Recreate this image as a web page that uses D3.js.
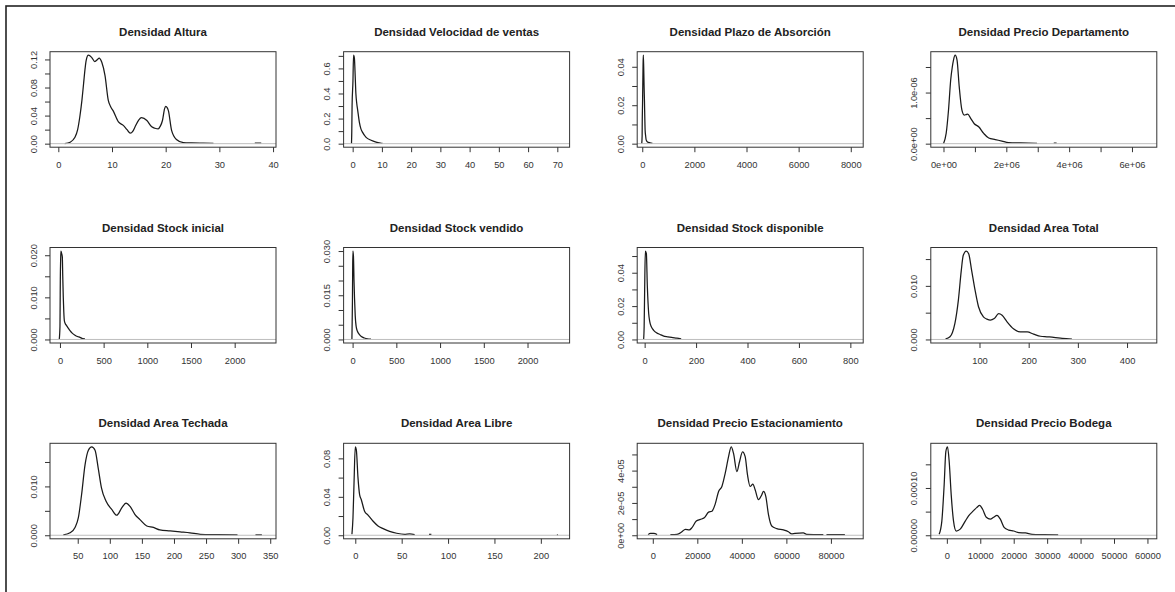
<!DOCTYPE html>
<html>
<head>
<meta charset="utf-8">
<script src="https://cdn.jsdelivr.net/npm/d3@7"></script>
<style>
  body { margin: 0; background: #fff; }
  text { font-family: "Liberation Sans", Arial, sans-serif; }
</style>
</head>
<body>
<div id="chart"></div>
<script>
// panel titles, in row order
const titles = [
  "Densidad Altura", "Densidad Velocidad de ventas", "Densidad Plazo de Absorción", "Densidad Precio Departamento",
  "Densidad Stock inicial", "Densidad Stock vendido", "Densidad Stock disponible", "Densidad Area Total",
  "Densidad Area Techada", "Densidad Area Libre", "Densidad Precio Estacionamiento", "Densidad Precio Bodega"
];

// visible x range of each panel
const xLimits = [
  [-1.55, 40.55], [-3.1, 74.2], [-194, 8477], [-0.404e6, 6.79e6],
  [-114, 2473], [-103, 2481], [-29, 850], [1, 460.5],
  [6.8, 359], [-12.6, 231], [-7000, 94500], [-4800, 62800]
];

const xTicks = [
  [0, 10, 20, 30, 40], [0, 10, 20, 30, 40, 50, 60, 70], [0, 2000, 4000, 6000, 8000], [0, 1e6, 2e6, 3e6, 4e6, 5e6, 6e6],
  [0, 500, 1000, 1500, 2000], [0, 500, 1000, 1500, 2000], [0, 200, 400, 600, 800], [100, 200, 300, 400],
  [50, 100, 150, 200, 250, 300, 350], [0, 50, 100, 150, 200], [0, 20000, 40000, 60000, 80000], [0, 10000, 20000, 30000, 40000, 50000, 60000]
];
const xTickLabels = [
  ["0", "10", "20", "30", "40"], ["0", "10", "20", "30", "40", "50", "60", "70"], ["0", "2000", "4000", "6000", "8000"],
  ["0e+00", "", "2e+06", "", "4e+06", "", "6e+06"],
  ["0", "500", "1000", "1500", "2000"], ["0", "500", "1000", "1500", "2000"], ["0", "200", "400", "600", "800"], ["100", "200", "300", "400"],
  ["50", "100", "150", "200", "250", "300", "350"], ["0", "50", "100", "150", "200"], ["0", "20000", "40000", "60000", "80000"],
  ["0", "10000", "20000", "30000", "40000", "50000", "60000"]
];

const yTicks = [
  [0, 0.02, 0.04, 0.06, 0.08, 0.10, 0.12], [0, 0.1, 0.2, 0.3, 0.4, 0.5, 0.6, 0.7], [0, 0.01, 0.02, 0.03, 0.04], [0, 5e-7, 1e-6, 1.5e-6],
  [0, 0.005, 0.010, 0.015, 0.020], [0, 0.005, 0.010, 0.015, 0.020, 0.025, 0.030], [0, 0.01, 0.02, 0.03, 0.04, 0.05], [0, 0.005, 0.010, 0.015],
  [0, 0.005, 0.010, 0.015], [0, 0.02, 0.04, 0.06, 0.08], [0, 1e-5, 2e-5, 3e-5, 4e-5, 5e-5], [0, 5e-5, 1e-4, 1.5e-4]
];
const yTickLabels = [
  ["0.00", "", "0.04", "", "0.08", "", "0.12"], ["0.0", "", "0.2", "", "0.4", "", "0.6", ""], ["0.00", "", "0.02", "", "0.04"], ["0.0e+00", "", "1.0e-06", ""],
  ["0.000", "", "0.010", "", "0.020"], ["0.000", "", "", "0.015", "", "", "0.030"], ["0.00", "", "0.02", "", "0.04", ""], ["0.000", "", "0.010", ""],
  ["0.000", "", "0.010", ""], ["0.00", "", "0.04", "", "0.08"], ["0e+00", "", "2e-05", "", "4e-05", ""], ["0.00000", "", "0.00010", ""]
];

// density curves, [x, y]; null y = hidden under the zero line
const altura = [[1.2,0],[2.2,0.002],[3.1,0.009],[3.6,0.02],[4.0,0.038],[4.4,0.062],[4.7,0.085],[5.0,0.108],[5.2,0.119],[5.6,0.126],[6.2,0.123],[6.8,0.117],[7.3,0.12],[7.6,0.122],[8.1,0.116],[8.7,0.097],[9.3,0.062],[9.8,0.052],[10.2,0.047],[11.2,0.031],[12.1,0.026],[12.8,0.02],[13.4,0.015],[13.9,0.018],[14.3,0.024],[15.0,0.034],[15.5,0.037],[16.5,0.033],[17.4,0.024],[18.0,0.022],[18.6,0.021],[19.0,0.025],[19.4,0.033],[19.8,0.05],[20.0,0.053],[20.3,0.051],[20.5,0.047],[21.1,0.019],[22.0,0.006],[23.3,0.0015],[24.8,0.001],[27.0,0.0007],[28.9,0.0005],[29.2,null],[36.5,null],[36.6,0.0006],[37.8,0.0006]];
const velocidad = [[-0.4,0],[-0.3,0.1],[-0.2,0.3],[0.1,0.5],[0.3,0.705],[0.6,0.68],[0.8,0.58],[1.1,0.4],[1.4,0.32],[1.7,0.27],[2.3,0.17],[2.8,0.12],[3.4,0.09],[4.6,0.05],[6.3,0.027],[8.0,0.013],[9.5,0.005],[10.2,0.002]];
const plazo = [[-20,0],[-5,0.004],[0,0.012],[10,0.02],[20,0.03],[30,0.04],[40,0.046],[55,0.04],[70,0.03],[85,0.022],[100,0.012],[110,0.007],[130,0.004],[150,0.002],[200,0.0009],[300,0.0004],[390,0.0001]];
const precioDepto = [[0,0],[0.085e6,0.2e-6],[0.16e6,0.66e-6],[0.23e6,1.25e-6],[0.28e6,1.5e-6],[0.32e6,1.64e-6],[0.37e6,1.73e-6],[0.43e6,1.64e-6],[0.5e6,1.12e-6],[0.585e6,0.66e-6],[0.66e6,0.56e-6],[0.72e6,0.57e-6],[0.77e6,0.58e-6],[0.87e6,0.49e-6],[0.98e6,0.39e-6],[1.12e6,0.33e-6],[1.28e6,0.2e-6],[1.44e6,0.11e-6],[1.65e6,0.08e-6],[1.86e6,0.05e-6],[2.07e6,0.02e-6],[2.45e6,0.013e-6],[2.98e6,0.007e-6],[3.0e6,null],[3.5e6,null],[3.51e6,0.012e-6],[3.6e6,0.012e-6]];
const stockInicial = [[-8,0],[0,0.003],[2,0.008],[4,0.014],[8,0.019],[11,0.021],[18,0.0205],[27,0.0196],[32,0.015],[38,0.01],[44,0.0065],[50,0.0045],[60,0.0038],[76,0.0033],[95,0.0027],[115,0.0021],[140,0.0015],[172,0.001],[200,0.0007],[229,0.0005],[260,0.0002],[286,0.00015]];
const stockVendido = [[-8,0],[-5,0.006],[-2,0.013],[1,0.025],[4,0.030],[10,0.028],[16,0.02],[22,0.014],[30,0.008],[40,0.0045],[55,0.0028],[76,0.0017],[100,0.001],[134,0.0005],[170,0.0002],[210,0.0001]];
const stockDisponible = [[-4,0],[-2,0.0076],[0,0.0296],[2.6,0.053],[6.6,0.0516],[10.5,0.0316],[15.7,0.0156],[20,0.0105],[26,0.0076],[35,0.0055],[46,0.004],[60,0.003],[72,0.0022],[90,0.0016],[105,0.0012],[125,0.0008],[142,0.0004]];
const areaTotal = [[31,0.0001],[40,0.0005],[45,0.0013],[50,0.003],[57,0.0073],[63,0.0129],[67,0.0157],[73,0.0165],[78,0.016],[84,0.0129],[91,0.0092],[98,0.0061],[108,0.0042],[115,0.0038],[122,0.0036],[130,0.0039],[139,0.0048],[146,0.0045],[156,0.0033],[169,0.002],[183,0.0014],[197,0.0014],[210,0.001],[224,0.0006],[237,0.0005],[251,0.0004],[268,0.0002],[288,0.00006]];
const areaTechada = [[27.6,0.00007],[38,0.0005],[45.8,0.0016],[51,0.0036],[56,0.0083],[61.4,0.0144],[66.6,0.0174],[71.8,0.0181],[77,0.0174],[82,0.0137],[87,0.0097],[94,0.007],[103,0.0053],[110.8,0.0041],[118.6,0.0056],[125.3,0.0066],[131.6,0.0059],[139,0.0043],[147,0.0032],[157.6,0.0019],[168,0.0016],[178,0.0011],[194,0.0009],[209.6,0.0007],[225,0.0005],[241,0.0002],[267,0.00013],[299,0.00007],[300,null],[326,null],[327,0.0001],[337,0.0001]];
const areaLibre = [[-3.6,0.001],[-2.5,0.018],[-1.4,0.053],[0,0.092],[1.1,0.089],[2.9,0.06],[4.7,0.042],[6.5,0.037],[10,0.025],[13.7,0.021],[19,0.0148],[24.5,0.0097],[30,0.0069],[37,0.0041],[44.6,0.0021],[53,0.001],[58.6,0.0014],[64,0.0007],[65,null],[79,null],[79.5,0.0008],[82,0.0008],[83,null],[217,null],[217.3,0.0005],[218.3,0.0005]];
const precioEstac = [[-2090,0.04e-5],[-1045,0.12e-5],[450,0.12e-5],[1940,0.04e-5],[2500,null],[7500,null],[7900,0.04e-5],[10900,0.06e-5],[13100,0.22e-5],[14600,0.37e-5],[16400,0.33e-5],[17600,0.47e-5],[19550,0.88e-5],[21340,0.98e-5],[23130,1.08e-5],[25070,1.43e-5],[26570,1.49e-5],[28060,1.94e-5],[29550,2.71e-5],[31040,3.02e-5],[32540,3.84e-5],[34030,4.86e-5],[35220,5.47e-5],[36270,5.06e-5],[37760,3.94e-5],[38960,4.55e-5],[40300,5.16e-5],[41490,4.86e-5],[42540,3.73e-5],[43730,3.02e-5],[44930,3.16e-5],[45970,2.82e-5],[47460,2.2e-5],[48960,2.51e-5],[49700,2.71e-5],[50750,2.41e-5],[51940,1.29e-5],[53430,0.57e-5],[55670,0.41e-5],[58660,0.33e-5],[60900,0.22e-5],[62390,0.08e-5],[63880,0.12e-5],[67610,0.14e-5],[69100,0.06e-5],[76600,0.04e-5],[77000,null],[77800,null],[78000,0.04e-5],[86270,0.04e-5]];
const precioBodega = [[-2300,0.02e-4],[-1500,0.3e-4],[-800,1.07e-4],[-300,1.77e-4],[200,1.87e-4],[700,1.56e-4],[1300,0.86e-4],[2000,0.3e-4],[2800,0.09e-4],[4000,0.13e-4],[5500,0.3e-4],[6500,0.41e-4],[8000,0.52e-4],[9000,0.59e-4],[9800,0.63e-4],[10700,0.55e-4],[11800,0.38e-4],[13000,0.34e-4],[14000,0.38e-4],[15000,0.42e-4],[16000,0.34e-4],[17200,0.16e-4],[18500,0.11e-4],[20000,0.09e-4],[21500,0.056e-4],[23500,0.05e-4],[25500,0.02e-4],[29000,0.014e-4],[33300,0.01e-4]];

const curves = [altura, velocidad, plazo, precioDepto, stockInicial, stockVendido, stockDisponible, areaTotal, areaTechada, areaLibre, precioEstac, precioBodega];

// layout
const W = 1175, H = 592;
const boxLeft0 = 50, colStep = 293.6, boxW = 226;
const boxTop0 = 51.7, rowStep = 195.8, boxH = 95.5;

const svg = d3.select("#chart").append("svg")
  .attr("width", W)
  .attr("height", H);

// outer frame
svg.append("rect")
  .attr("x", 6).attr("y", 6)
  .attr("width", 1200).attr("height", 700)
  .attr("fill", "none")
  .attr("stroke", "#222")
  .attr("stroke-width", 1.6);

curves.forEach((data, i) => {
  const col = i % 4, row = Math.floor(i / 4);
  const g = svg.append("g")
    .attr("transform", `translate(${boxLeft0 + col * colStep},${boxTop0 + row * rowStep})`);

  // R style: y range padded 4% each side of [0, max]
  const ymax = d3.max(data, d => d[1]);
  const x = d3.scaleLinear().domain(xLimits[i]).range([0, boxW]);
  const y = d3.scaleLinear().domain([-0.04 * ymax, 1.04 * ymax]).range([boxH, 0]);

  const line = d3.line()
    .defined(d => d[1] !== null)
    .x(d => x(d[0]))
    .y(d => y(d[1]))
    .curve(d3.curveMonotoneX);

  g.append("path")
    .datum(data)
    .attr("fill", "none")
    .attr("stroke", "#1a1a1a")
    .attr("stroke-width", 1.25)
    .attr("d", line);

  // zero line drawn over the curve, as plot.density does
  g.append("line")
    .attr("x1", 0).attr("x2", boxW)
    .attr("y1", y(0)).attr("y2", y(0))
    .attr("stroke", "#bebebe")
    .attr("stroke-width", 1);

  g.append("rect")
    .attr("width", boxW).attr("height", boxH)
    .attr("fill", "none")
    .attr("stroke", "#333")
    .attr("stroke-width", 1);

  const xAxis = g.append("g")
    .attr("transform", `translate(0,${boxH})`)
    .call(d3.axisBottom(x)
      .tickValues(xTicks[i])
      .tickFormat((d, k) => xTickLabels[i][k])
      .tickSize(5)
      .tickSizeOuter(0)
      .tickPadding(9));
  xAxis.select(".domain").remove();
  xAxis.selectAll("line").attr("stroke", "#333");
  xAxis.selectAll("text")
    .attr("fill", "#333")
    .style("font-size", "9.3px")
    .style("font-family", "'Liberation Sans', Arial, sans-serif");

  const yAxis = g.append("g")
    .call(d3.axisLeft(y)
      .tickValues(yTicks[i])
      .tickFormat((d, k) => yTickLabels[i][k])
      .tickSize(5)
      .tickSizeOuter(0));
  yAxis.select(".domain").remove();
  yAxis.selectAll("line").attr("stroke", "#333");
  yAxis.selectAll("text")
    .attr("transform", "rotate(-90)")
    .attr("x", 0)
    .attr("y", -13.5)
    .attr("dy", null)
    .attr("text-anchor", "middle")
    .attr("fill", "#333")
    .style("font-size", "9.3px")
    .style("font-family", "'Liberation Sans', Arial, sans-serif");

  g.append("text")
    .attr("x", boxW / 2)
    .attr("y", -16)
    .attr("text-anchor", "middle")
    .attr("fill", "#222")
    .style("font-weight", "bold")
    .style("font-size", "11.5px")
    .text(titles[i]);
});
</script>
</body>
</html>
